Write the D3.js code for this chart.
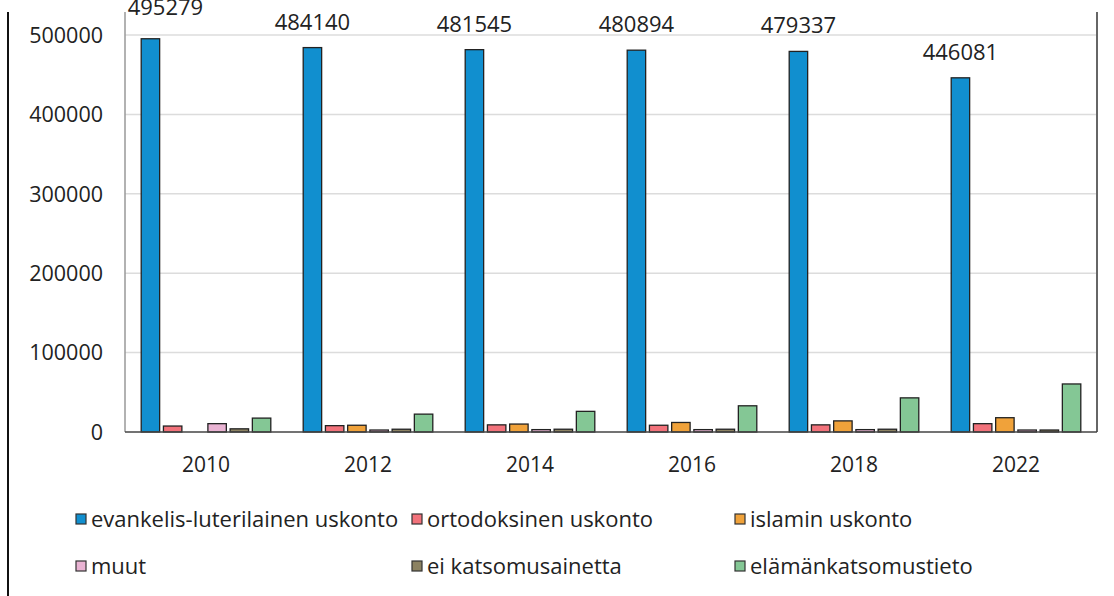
<!DOCTYPE html>
<html>
<head>
<meta charset="utf-8">
<script src="https://cdn.jsdelivr.net/npm/d3@7"></script>
<style>
  body { margin: 0; background: #fff; }
  svg text { font-family: "Open Sans", sans-serif; fill: #222; }
</style>
</head>
<body>
<div id="plot"></div>
<script>
// data
const years = ["2010", "2012", "2014", "2016", "2018", "2022"];
const seriesNames = [
  "evankelis-luterilainen uskonto",
  "ortodoksinen uskonto",
  "islamin uskonto",
  "muut",
  "ei katsomusainetta",
  "elämänkatsomustieto"
];
const lutheran = [495279, 484140, 481545, 480894, 479337, 446081];
const orthodox = [7500, 8000, 9000, 8500, 9000, 10500];
const islam = [0, 8500, 10000, 12000, 14000, 18000];
const muut = [10500, 2500, 3000, 3000, 3000, 2500];
const eiKatsomus = [4000, 3500, 3500, 3500, 3500, 2500];
const elamankatsomus = [17500, 22500, 26000, 33000, 43000, 60500];
const yTicks = [0, 100000, 200000, 300000, 400000, 500000];
const colors = ["#118fcf", "#f2727b", "#f0a23a", "#e9b3d3", "#8c8262", "#84c795"];

const allSeries = [lutheran, orthodox, islam, muut, eiKatsomus, elamankatsomus];

const width = 1114,
  height = 596;
const plot = { left: 125, right: 1097, top: 12, bottom: 432 };

const svg = d3.select("#plot").append("svg").attr("width", width).attr("height", height);

// scales
const x0 = d3.scaleBand().domain(years).range([plot.left, plot.right]).paddingInner(0.2).paddingOuter(0.1);
const x1 = d3.scaleBand().domain(d3.range(seriesNames.length)).range([0, x0.bandwidth()]).paddingInner(0.17);
const y = d3.scaleLinear().domain([0, 500000]).range([plot.bottom, plot.bottom - 397]);

// page border on the left
svg.append("line").attr("x1", 8).attr("x2", 8).attr("y1", 12).attr("y2", height).attr("stroke", "#111").attr("stroke-width", 2);

// gridlines
svg.append("g").selectAll("line").data(yTicks.slice(1)).join("line")
  .attr("x1", plot.left).attr("x2", plot.right)
  .attr("y1", d => y(d)).attr("y2", d => y(d))
  .attr("stroke", "#dcdcdc").attr("stroke-width", 1.5);

// y tick labels
svg.append("g").selectAll("text").data(yTicks).join("text")
  .attr("x", 103).attr("y", d => y(d)).attr("dy", "0.36em")
  .attr("text-anchor", "end").style("font-size", "21.5px")
  .text(d => d);

// plot frame
svg.append("line").attr("x1", plot.left).attr("x2", plot.left).attr("y1", plot.top).attr("y2", plot.bottom).attr("stroke", "#999").attr("stroke-width", 1.5);
svg.append("line").attr("x1", plot.right).attr("x2", plot.right).attr("y1", plot.top).attr("y2", plot.bottom).attr("stroke", "#666").attr("stroke-width", 2);

// bars
const groups = svg.append("g").selectAll("g").data(years).join("g")
  .attr("transform", d => `translate(${x0(d)},0)`);

groups.selectAll("rect")
  .data((yr, i) => allSeries.map((s, k) => ({ k, v: s[i] })).filter(d => d.v > 0))
  .join("rect")
  .attr("x", d => x1(d.k))
  .attr("width", x1.bandwidth())
  .attr("y", d => y(d.v))
  .attr("height", d => y(0) - y(d.v))
  .attr("fill", d => colors[d.k])
  .attr("stroke", "#222")
  .attr("stroke-width", 1.3);

// baseline
svg.append("line").attr("x1", plot.left).attr("x2", plot.right).attr("y1", plot.bottom).attr("y2", plot.bottom).attr("stroke", "#444").attr("stroke-width", 1.5);

// value labels for lutheran bars (first one sits higher, clipped at the top like the source)
svg.append("g").selectAll("text").data(years).join("text")
  .attr("x", (d, i) => x0(d) + x1(0) + x1.bandwidth() / 2 + (i === 0 ? 15 : 0))
  .attr("y", (d, i) => y(lutheran[i]) - 18 - (i === 0 ? 6 : 0))
  .attr("text-anchor", "middle").style("font-size", "22px")
  .text((d, i) => lutheran[i]);

// x labels
svg.append("g").selectAll("text").data(years).join("text")
  .attr("x", d => x0(d) + x0.bandwidth() / 2).attr("y", 472)
  .attr("text-anchor", "middle").style("font-size", "21px")
  .text(d => d);

// legend
const legendX = [76, 412, 735];
const legendY = [519, 566];
const legend = svg.append("g").selectAll("g").data(seriesNames).join("g")
  .attr("transform", (d, i) => `translate(${legendX[i % 3]},${legendY[Math.floor(i / 3)]})`);
legend.append("rect").attr("x", 0).attr("y", -5).attr("width", 10).attr("height", 10)
  .attr("fill", (d, i) => colors[i]).attr("stroke", "#333").attr("stroke-width", 1.2);
legend.append("text").attr("x", 15).attr("dy", "0.36em").style("font-size", "22px").text(d => d);
</script>
</body>
</html>
